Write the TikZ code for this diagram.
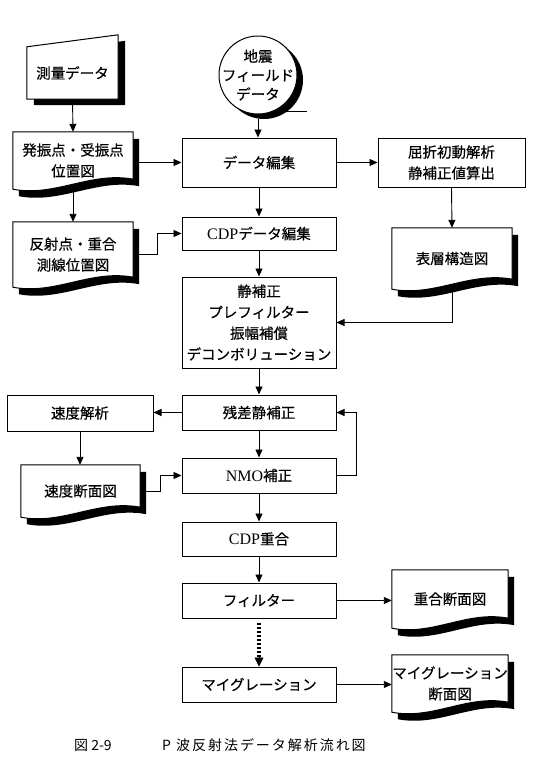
\documentclass[tikz,border=0pt]{standalone}
\usepackage{fontspec}
\setmainfont{Noto Sans CJK JP}[FakeBold=0.4]
\newfontfamily\latf{Liberation Serif}
\newfontfamily\capf[LetterSpace=14]{Noto Sans CJK JP}
\newfontfamily\capn{Noto Sans CJK JP}
\usetikzlibrary{arrows.meta,calc}
\pgfdeclarelayer{bg}
\pgfdeclarelayer{shp}
\pgfsetlayers{bg,shp,main}
\newcommand\latn[1]{{\latf\fontsize{16}{21}\selectfont #1}}
\newcommand\docpath[3]{($(#1.north west)+(#2,#3)$) -- ($(#1.north east)+(#2,#3)$) -- ($(#1.south east)+(#2,#3-10)$) .. controls ($(#1.south east)!0.35!(#1.south west)+(#2,#3-18)$) and ($(#1.south west)!0.35!(#1.south east)+(#2,#3+8)$) .. ($(#1.south west)+(#2,#3)$) -- cycle}
\newcommand\docshape[1]{\begin{pgfonlayer}{shp}\fill[black]\docpath{#1}{6}{7};\draw[line width=1pt,fill=white]\docpath{#1}{0}{0};\end{pgfonlayer}}
\tikzset{
  txt/.style={font=\fontsize{14.5}{21}\selectfont, align=center, inner sep=0pt},
  box/.style={txt, draw, fill=white, line width=1pt, minimum width=154},
  docn/.style={txt, minimum width=120},
  arr/.style={line width=0.9pt, -{Triangle[length=8pt,width=7pt]}},
  ln/.style={line width=0.9pt}
}
\begin{document}
\begin{tikzpicture}[x=1pt,y=-1pt]
\useasboundingbox (0,0) rectangle (541,774);
% central column
\node[box, minimum height=49] (dedit) at (259,162.5) {データ編集};
\node[box, minimum height=33] (cdp) at (259,233.5) {\latn{CDP}データ編集};
\node[box, minimum height=91] (sei) at (259,322.5) {静補正\\プレフィルター\\振幅補償\\デコンボリューション};
\node[box, minimum height=35] (zansa) at (259,412.5) {残差静補正};
\node[box, minimum height=35] (nmo) at (259,475.5) {\latn{NMO}補正};
\node[box, minimum height=34] (cdpj) at (259,539) {\latn{CDP}重合};
\node[box, minimum height=35] (filt) at (259,600.5) {フィルター};
\node[box, minimum height=35] (mig) at (259,684.5) {マイグレーション};
% right column
\node[box, minimum width=147, minimum height=49] (kus) at (451.5,162.5) {屈折初動解析\\静補正値算出};
\node[docn, minimum height=61] (hyoso) at (452,258.5) {表層構造図};
\node[docn, minimum width=116, minimum height=58] (jugo) at (450,599) {重合断面図};
\node[docn, minimum width=116, minimum height=57] (migd) at (450,683.5) {マイグレーション\\断面図};
% left column
\node[txt, minimum width=91, minimum height=52] (sok) at (72.5,73) {測量データ};
\node[docn, minimum height=57] (hass) at (73,160.5) {発振点・受振点\\位置図};
\node[docn, minimum height=65] (hans) at (73,254.5) {反射点・重合\\測線位置図};
\node[box, minimum width=146, minimum height=36] (sokudo) at (80,413) {速度解析};
\node[docn, minimum width=119, minimum height=52] (sokd) at (80.5,491) {速度断面図};
% tape
\node[txt, font=\fontsize{14.5}{19}\selectfont, circle, minimum size=78] (jis) at (258,75) {地震\\フィールド\\データ};
% shapes
\begin{pgfonlayer}{shp}
\draw[line width=1pt] ($(jis)+(22,36)$) -- ($(jis)+(49,36)$);
\fill[black] ($(jis)+(6,5)$) circle (39);
\draw[line width=1pt, fill=white] (jis) circle (39);
\fill[black] ($(sok.north west)+(7,6)$) -- ($(sok.north east)+(7,-6)$) -- ($(sok.south east)+(7,6)$) -- ($(sok.south west)+(7,6)$) -- cycle;
\draw[line width=1pt, fill=white] (sok.north west) -- ($(sok.north east)+(0,-12)$) -- (sok.south east) -- (sok.south west) -- cycle;
\end{pgfonlayer}
\docshape{hass}
\docshape{hans}
\docshape{hyoso}
\docshape{sokd}
\docshape{jugo}
\docshape{migd}
% connectors
\begin{pgfonlayer}{bg}
\draw[arr] (sok.south) -- (hass.north);
\draw[arr] (hass.south) -- (hans.north);
\draw[arr] (hass.east |- dedit.west) -- (dedit.west);
\draw[arr] (hans.east) -- ++(24,0) |- (cdp.west);
\draw[arr] (jis.south) -- (jis.south |- dedit.north);
\draw[arr] (dedit.east) -- (kus.west);
\draw[arr] (dedit.south) -- (cdp.north);
\draw[arr] (kus.south) -- (hyoso.north);
\draw[arr] (hyoso.south) |- (sei.east);
\draw[arr] (cdp.south) -- (sei.north);
\draw[arr] (sei.south) -- (zansa.north);
\draw[arr] (zansa.west) -- (zansa.west -| sokudo.east);
\draw[arr] (sokudo.south) -- (sokudo.south |- sokd.north);
\draw[arr] (sokd.east) -- ++(20,0) |- (nmo.west);
\draw[arr] (zansa.south) -- (nmo.north);
\draw[arr] (nmo.east) -- ++(20,0) |- (zansa.east);
\draw[arr] (nmo.south) -- (cdpj.north);
\draw[arr] (cdpj.south) -- (filt.north);
\draw[arr] (filt.east) -- (filt.east -| jugo.west);
\draw[line width=4pt, dash pattern=on 2.5pt off 1.5pt] ($(filt.south)+(0,4)$) -- ($(mig.north)+(0,-8)$);
\draw[line width=0.9pt, -{Triangle[length=9pt,width=9pt]}] ($(mig.north)+(0,-10)$) -- (mig.north);
\draw[arr] (mig.east) -- (mig.east -| migd.west);
\end{pgfonlayer}
% caption
\node[inner sep=0pt, font=\capn\fontsize{14}{14}\selectfont] (fno) at (93,745) {図 2-9};
\node[inner sep=0pt, font=\capf\fontsize{14}{14}\selectfont] (ftit) at (264,745) {P 波反射法データ解析流れ図};
\end{tikzpicture}
\end{document}
